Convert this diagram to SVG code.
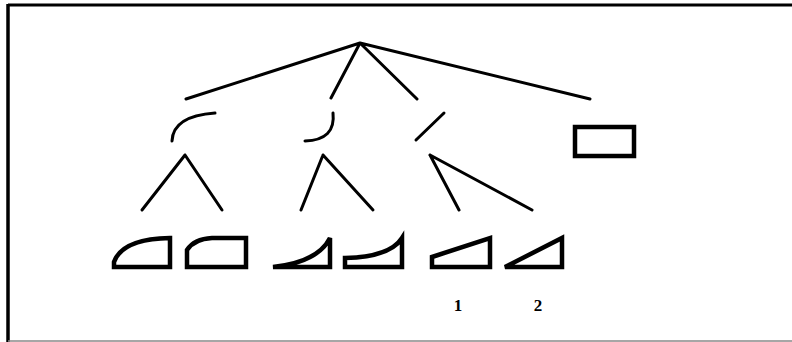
<svg xmlns="http://www.w3.org/2000/svg" width="792" height="342" viewBox="0 0 792 342">
<style>
.ln{stroke:#000;stroke-width:3;fill:none;stroke-linecap:round;stroke-linejoin:round}
.sh{stroke:#000;stroke-width:4.5;fill:none;stroke-linejoin:miter}
.lbl{font-family:"Liberation Serif",serif;font-weight:bold;font-size:17px;fill:#000;text-anchor:middle}
</style>
<rect width="792" height="342" fill="#fff"/>
<g id="frame">
<line x1="8" y1="5" x2="792" y2="5" stroke="#000" stroke-width="3"/>
<line x1="8" y1="4" x2="8" y2="342" stroke="#000" stroke-width="3.5"/>
<line x1="8" y1="341" x2="792" y2="341" stroke="#888" stroke-width="1.5"/>
</g>
<g id="connectors">
<path class="ln" d="M360 43 L186 99 M360 43 L331 98 M360 43 L417 99 M360 43 L590 99"/>
<path class="ln" d="M185 155 L142 210 M185 155 L222 210"/>
<path class="ln" d="M323 155 L301 210 M323 155 L373 210"/>
<path class="ln" d="M430 155 L459 210 M430 155 L532 210"/>
</g>
<g id="n-root"/>
<g id="n-arc1"><path class="ln" d="M172 141 Q173 116 215 113"/></g>
<g id="n-arc2"><path class="ln" d="M333 113 Q336 140 305 141"/></g>
<g id="n-slash"><path class="ln" d="M444 113 L416 140"/></g>
<g id="n-rect"><rect class="sh" x="575" y="127" width="59" height="29"/></g>
<g id="n-s1"><path class="sh" d="M114 267 L114 262 Q122 239 170 238 L170 267 Z"/></g>
<g id="n-s2"><path class="sh" d="M187 267 L187 250 Q194 239 212 238 L246 238 L246 267 Z"/></g>
<g id="n-s3"><path class="sh" d="M273 267 Q318 262 330 238 L330 267 Z"/></g>
<g id="n-s4"><path class="sh" d="M345 267 L345 258 Q390 257 402 238 L402 267 Z"/></g>
<g id="n-s5"><path class="sh" d="M432 267 L432 257 L490 238 L490 267 Z"/></g>
<g id="n-s6"><path class="sh" d="M505 267 L562 238 L562 267 Z"/></g>
<g id="labels">
<text class="lbl" x="458" y="311">1</text>
<text class="lbl" x="538" y="311">2</text>
</g>
</svg>
